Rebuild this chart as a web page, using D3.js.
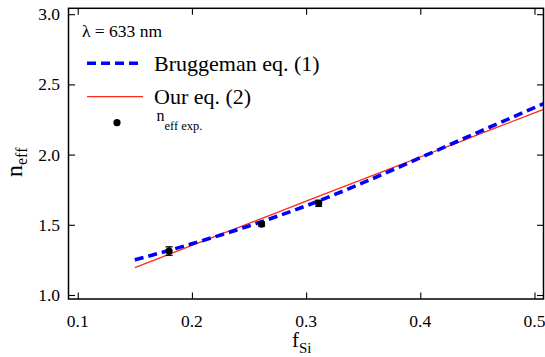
<!DOCTYPE html>
<html><head><meta charset="utf-8">
<script src="https://cdn.jsdelivr.net/npm/d3@7"></script>
<style>body{margin:0;background:#fff}svg{display:block}</style>
</head><body><svg id="c" width="545" height="357" font-family="'Liberation Serif', 'DejaVu Serif', serif"></svg>
<script>
const fBrug = [0.15, 0.2, 0.25, 0.3, 0.35, 0.4, 0.45, 0.5, 0.508];
const nBrug = [1.25, 1.365, 1.492, 1.635, 1.80, 1.978, 2.157, 2.334, 2.362];
const fOur = [0.15, 0.2, 0.25, 0.3, 0.35, 0.4, 0.45, 0.5, 0.508];
const nOur = [1.195, 1.353, 1.51, 1.668, 1.825, 1.983, 2.14, 2.297, 2.322];
const fExp = [0.18, 0.261, 0.311];
const nExp = [1.313, 1.505, 1.653];
const errExp = [0.03, 0.015, 0.022];
const xTicks = [0.1, 0.2, 0.3, 0.4, 0.5];
const yTicks = [1.0, 1.5, 2.0, 2.5, 3.0];

const FONT = "'Liberation Serif', 'DejaVu Serif', serif";
const svg = d3.select("#c");
const L = 68.5, R = 543.5, T = 8.3, B = 299;
const x = d3.scaleLinear().domain([0.0919, 0.5079]).range([L, R]);
const y = d3.scaleLinear().domain([0.9715, 3.042]).range([B, T]);

svg.append("clipPath").attr("id","clp").append("rect")
  .attr("x", L).attr("y", T).attr("width", R-L).attr("height", B-T);

const g = svg.append("g").attr("clip-path","url(#clp)");
const line = d3.line().x(d=>x(d[0])).y(d=>y(d[1])).curve(d3.curveMonotoneX);
g.append("path").datum(fOur.map((f,i)=>[f,nOur[i]])).attr("d", line)
  .attr("fill","none").attr("stroke","#ff2a1a").attr("stroke-width",1.3);
g.append("path").datum(fBrug.map((f,i)=>[f,nBrug[i]])).attr("d", line)
  .attr("fill","none").attr("stroke","#0000ff").attr("stroke-width",3.6)
  .attr("stroke-dasharray","9,5");

// experimental points
const pts = svg.append("g");
fExp.forEach((f,i)=>{
  const cx = x(f), y1 = y(nExp[i]-errExp[i]), y2 = y(nExp[i]+errExp[i]);
  pts.append("line").attr("x1",cx).attr("x2",cx).attr("y1",y1).attr("y2",y2).attr("stroke","#000").attr("stroke-width",1.3);
  [y1,y2].forEach(yy=>pts.append("line").attr("x1",cx-3.5).attr("x2",cx+3.5).attr("y1",yy).attr("y2",yy).attr("stroke","#000").attr("stroke-width",1.3));
  pts.append("circle").attr("cx",cx).attr("cy",y(nExp[i])).attr("r",3.6).attr("fill","#000");
});

// axes with inward ticks
const xMinor = d3.range(0.1, 0.5001, 0.02);
const yMinor = d3.range(1.0, 3.0001, 0.1);
function axis(gen, scale, major, minor, transform) {
  const a = svg.append("g").attr("transform", transform);
  a.call(gen(scale).tickValues(minor).tickSize(-3.8).tickFormat(""));
  a.call(gen(scale).tickValues(major).tickSize(-6.5).tickFormat(""));
  a.selectAll(".domain").remove();
  a.selectAll("line").attr("stroke","#000").attr("stroke-width",1.1);
  return a;
}
axis(d3.axisBottom, x, xTicks, xMinor, `translate(0,${B})`);
axis(d3.axisTop, x, xTicks, xMinor, `translate(0,${T})`);
axis(d3.axisLeft, y, yTicks, yMinor, `translate(${L},0)`);
axis(d3.axisRight, y, yTicks, yMinor, `translate(${R},0)`);
svg.append("rect").attr("x",L).attr("y",T).attr("width",R-L).attr("height",B-T)
  .attr("fill","none").attr("stroke","#000").attr("stroke-width",1.5);

function txt(sel){ return sel.attr("font-family", FONT).attr("fill","#000"); }

// tick labels
txt(svg.append("g").selectAll("text").data(xTicks).join("text"))
  .attr("x",d=>x(d)).attr("y",327).attr("text-anchor","middle")
  .attr("font-size",17.5).text(d=>d3.format(".1f")(d));
txt(svg.append("g").selectAll("text").data(yTicks).join("text"))
  .attr("x",60).attr("y",d=>y(d)+6).attr("text-anchor","end")
  .attr("font-size",17.5).text(d=>d3.format(".1f")(d));

// axis titles
const xt = txt(svg.append("text")).attr("x",292).attr("y",347).attr("font-size",21);
xt.append("tspan").text("f");
xt.append("tspan").attr("font-size",15).attr("dy",6).text("Si");
const yt = txt(svg.append("text")).attr("transform","translate(22,177) rotate(-90)").attr("font-size",24);
yt.append("tspan").text("n");
yt.append("tspan").attr("font-size",16).attr("dy",5).text("eff");

// legend
txt(svg.append("text")).attr("x",82).attr("y",37).attr("font-size",17.5).text("λ = 633 nm");
svg.append("line").attr("x1",87).attr("x2",143).attr("y1",63.3).attr("y2",63.3)
  .attr("stroke","#0000ff").attr("stroke-width",3.6).attr("stroke-dasharray","9,5");
txt(svg.append("text")).attr("x",154).attr("y",71).attr("font-size",22).text("Bruggeman eq. (1)");
svg.append("line").attr("x1",87).attr("x2",143).attr("y1",96.7).attr("y2",96.7)
  .attr("stroke","#ff2a1a").attr("stroke-width",1.3);
txt(svg.append("text")).attr("x",154).attr("y",103.5).attr("font-size",22).text("Our eq. (2)");
svg.append("circle").attr("cx",117).attr("cy",122.7).attr("r",3.6).attr("fill","#000");
const le = txt(svg.append("text")).attr("x",156.5).attr("y",121).attr("font-size",16);
le.append("tspan").text("n");
le.append("tspan").attr("font-size",12.5).attr("dy",9).text("eff exp.");
</script></body></html>
